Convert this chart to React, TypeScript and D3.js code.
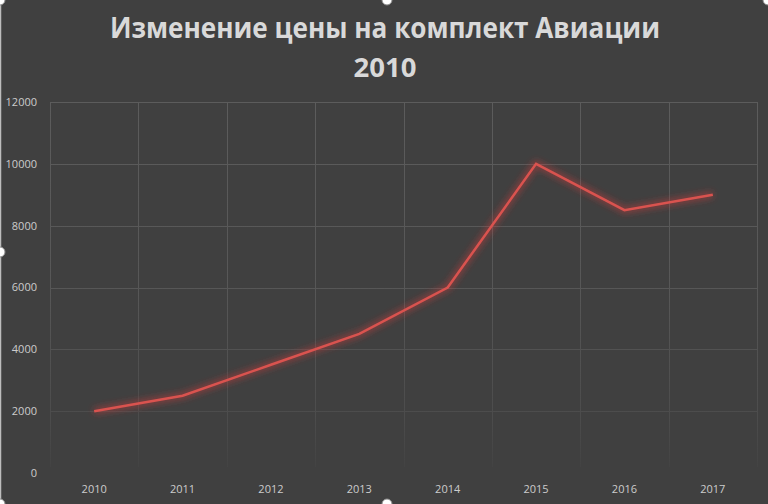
import React from "react";
import * as d3 from "d3";

const years = ["2010", "2011", "2012", "2013", "2014", "2015", "2016", "2017"];
const prices = [2000, 2500, 3500, 4500, 6000, 10000, 8500, 9000];
const yTicks = [0, 2000, 4000, 6000, 8000, 10000, 12000];
const titleLines = ["Изменение цены на комплект Авиации", "2010"];

const W = 768;
const H = 504;
const plot = { left: 50, right: 757, top: 102, bottom: 473 };

export default function App() {
  const x = d3.scaleBand<string>().domain(years).range([plot.left, plot.right]).padding(0);
  const y = d3.scaleLinear().domain([0, 12000]).range([plot.bottom, plot.top]);
  const data = years.map((yr, i) => ({ yr, v: prices[i] }));
  const line = d3
    .line<{ yr: string; v: number }>()
    .x((d) => (x(d.yr) as number) + x.bandwidth() / 2)
    .y((d) => y(d.v));
  const boundaries = years.map((yr) => x(yr) as number).concat([plot.right]);
  const font = "'Open Sans', 'Noto Sans', sans-serif";

  return (
    <svg
      width={W}
      height={H}
      style={{ position: "fixed", left: 0, top: 0, display: "block" }}
    >
      <defs>
        <linearGradient id="gridGrad" gradientUnits="userSpaceOnUse" x1="0" y1={plot.top} x2="0" y2={plot.bottom}>
          <stop offset="0" stopColor="#5c5c5c" />
          <stop offset="0.5" stopColor="#575757" />
          <stop offset="0.85" stopColor="#4c4c4c" />
          <stop offset="1" stopColor="#424242" />
        </linearGradient>
        <filter id="glow" x="-10%" y="-10%" width="120%" height="120%">
          <feGaussianBlur in="SourceGraphic" stdDeviation="3.2" />
        </filter>
      </defs>
      <rect x={0} y={0} width={W} height={H} fill="#404040" />
      <line x1={0.5} y1={0} x2={0.5} y2={H} stroke="#bdbdbd" strokeWidth={1.5} />

      <text
        x={385}
        y={38}
        textAnchor="middle"
        fill="#d9d9d9"
        fontFamily={font}
        fontWeight={700}
        fontSize={29}
        textLength={550}
        lengthAdjust="spacingAndGlyphs"
      >
        {titleLines[0]}
      </text>
      <text
        x={385}
        y={77}
        textAnchor="middle"
        fill="#d9d9d9"
        fontFamily={font}
        fontWeight={700}
        fontSize={27}
        textLength={63}
        lengthAdjust="spacingAndGlyphs"
      >
        {titleLines[1]}
      </text>

      <g>
        {yTicks
          .filter((t) => t > 0)
          .map((t) => (
            <line
              key={"h" + t}
              x1={plot.left}
              x2={plot.right}
              y1={Math.round(y(t)) + 0.5}
              y2={Math.round(y(t)) + 0.5}
              stroke="url(#gridGrad)"
              strokeWidth={1}
            />
          ))}
        {boundaries.map((bx, i) => (
          <rect
            key={"v" + i}
            x={Math.round(bx)}
            y={plot.top}
            width={1}
            height={plot.bottom - plot.top - 6}
            fill="url(#gridGrad)"
          />
        ))}
      </g>

      {yTicks.map((t) => (
        <text
          key={"yl" + t}
          x={37}
          y={y(t)}
          dy="0.35em"
          textAnchor="end"
          fill="#cccccc"
          fontFamily={font}
          fontSize={11}
        >
          {t}
        </text>
      ))}
      {years.map((yr) => (
        <text
          key={"xl" + yr}
          x={(x(yr) as number) + x.bandwidth() / 2}
          y={489}
          dy="0.35em"
          textAnchor="middle"
          fill="#cccccc"
          fontFamily={font}
          fontSize={11}
        >
          {yr}
        </text>
      ))}

      <path
        d={line(data) || ""}
        fill="none"
        stroke="#d23a3a"
        strokeOpacity={0.45}
        strokeWidth={7}
        strokeLinejoin="round"
        filter="url(#glow)"
      />
      <path
        d={line(data) || ""}
        fill="none"
        stroke="#d9534f"
        strokeWidth={2.5}
        strokeLinejoin="miter"
      />

      {[
        [0, 0],
        [387, 0],
        [768, 0],
        [0, 252],
        [0, 504],
        [387, 504],
      ].map(([cx, cy], i) => (
        <circle key={"h" + i} cx={cx} cy={cy} r={5} fill="#ffffff" stroke="#8a8a8a" strokeWidth={1} />
      ))}
    </svg>
  );
}
